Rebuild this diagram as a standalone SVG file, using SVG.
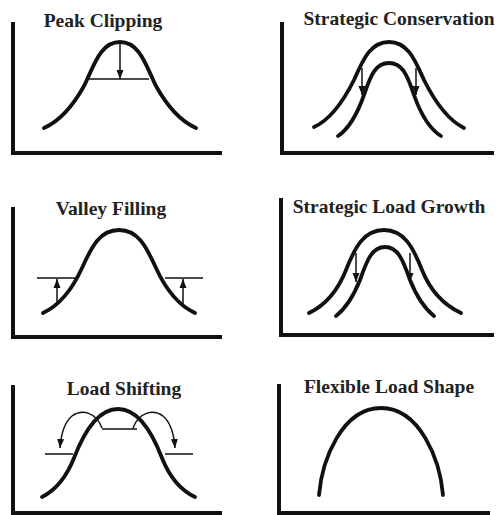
<svg xmlns="http://www.w3.org/2000/svg" width="496" height="515" viewBox="0 0 496 515">
<defs>
<marker id="ah" markerUnits="userSpaceOnUse" markerWidth="10" markerHeight="8" refX="9" refY="4" orient="auto">
<path d="M0,0.5 L9,4 L0,7.5 z" fill="#111"/>
</marker>
<style>
.t{font-family:"Liberation Serif","Times New Roman",serif;font-weight:bold;font-size:19.5px;fill:#222;text-anchor:middle}
.ax{stroke:#111;stroke-width:4;fill:none}
.cv{stroke:#111;stroke-width:3.8;fill:none;stroke-linecap:round;stroke-linejoin:round}
.ln{stroke:#111;stroke-width:1.6;fill:none}
.ar{stroke:#111;stroke-width:1.5;fill:none;marker-end:url(#ah)}
</style>
</defs>
<rect width="496" height="515" fill="#fff"/>

<g id="peak-clipping">
<path class="ax" d="M13,22 V153 H222"/>
<text class="t" x="103" y="27">Peak Clipping</text>
<path class="cv" d="M44,128 C62,120 74,104 84,86 C94,66 100,42 120,42 C140,42 146,66 156,86 C166,104 178,120 196,128"/>
<path class="ln" d="M88,79 H149"/>
</g>

<g id="strategic-conservation">
<path class="ax" d="M282,22 V153 H494"/>
<text class="t" x="399" y="25">Strategic Conservation</text>
<path class="cv" d="M314,127 C332,119 345,98 354,80 C363,60 370,42 389,42 C408,42 415,60 424,80 C433,98 446,119 464,128"/>
<path class="cv" d="M338,136 C350,128 358,112 364,95 C371,74 376,63 389,63 C402,63 407,74 414,95 C420,112 428,128 441,136"/>
</g>

<g id="valley-filling">
<path class="ax" d="M13,207 V337 H222"/>
<text class="t" x="111" y="215">Valley Filling</text>
<path class="cv" d="M43,313 C60,305 72,290 82,268 C92,246 100,230 119,230 C138,230 146,246 156,268 C166,290 178,305 195,313"/>
<path class="ln" d="M37,278 H78 M165,278 H203"/>
</g>

<g id="strategic-load-growth">
<path class="ax" d="M281,198 V335 H494"/>
<text class="t" x="389" y="213">Strategic Load Growth</text>
<path class="cv" d="M309,313 C326,305 338,290 346,270 C355,247 364,230 384,230 C404,230 413,247 422,270 C430,290 444,305 461,313"/>
<path class="cv" d="M336,316 C346,308 354,295 360,280 C367,260 372,247 385,247 C398,247 403,260 410,280 C416,295 424,308 434,316"/>
</g>

<g id="load-shifting">
<path class="ax" d="M13,385 V513 H222"/>
<text class="t" x="124" y="395">Load Shifting</text>
<path class="cv" d="M42,497 C56,490 66,478 74,458 C84,432 98,409 118,409 C138,409 152,432 162,458 C170,478 180,490 195,497"/>
<path class="ln" d="M102,429 H137 M45,454 H73 M165,454 H193"/>
</g>

<g id="flexible-load-shape">
<path class="ax" d="M279,384 V513 H490"/>
<text class="t" x="389" y="393">Flexible Load Shape</text>
<path class="cv" d="M319,495 C322,460 342,408 381,408 C420,408 440,460 443,495"/>
</g>

<g id="connectors">
<path class="ar" d="M120,43 V79"/>
<path class="ar" d="M362,68 V95"/>
<path class="ar" d="M416,68 V95"/>
<path class="ar" d="M57,305 V279"/>
<path class="ar" d="M183,304 V279"/>
<path class="ar" d="M356,253 V282"/>
<path class="ar" d="M410,253 V282"/>
<path class="ar" d="M102,428 C96,412 82,409 72,416 C65,422 61,434 60,448"/>
<path class="ar" d="M133,428 C139,412 153,409 163,416 C170,422 174,434 175,448"/>
</g>
</svg>
